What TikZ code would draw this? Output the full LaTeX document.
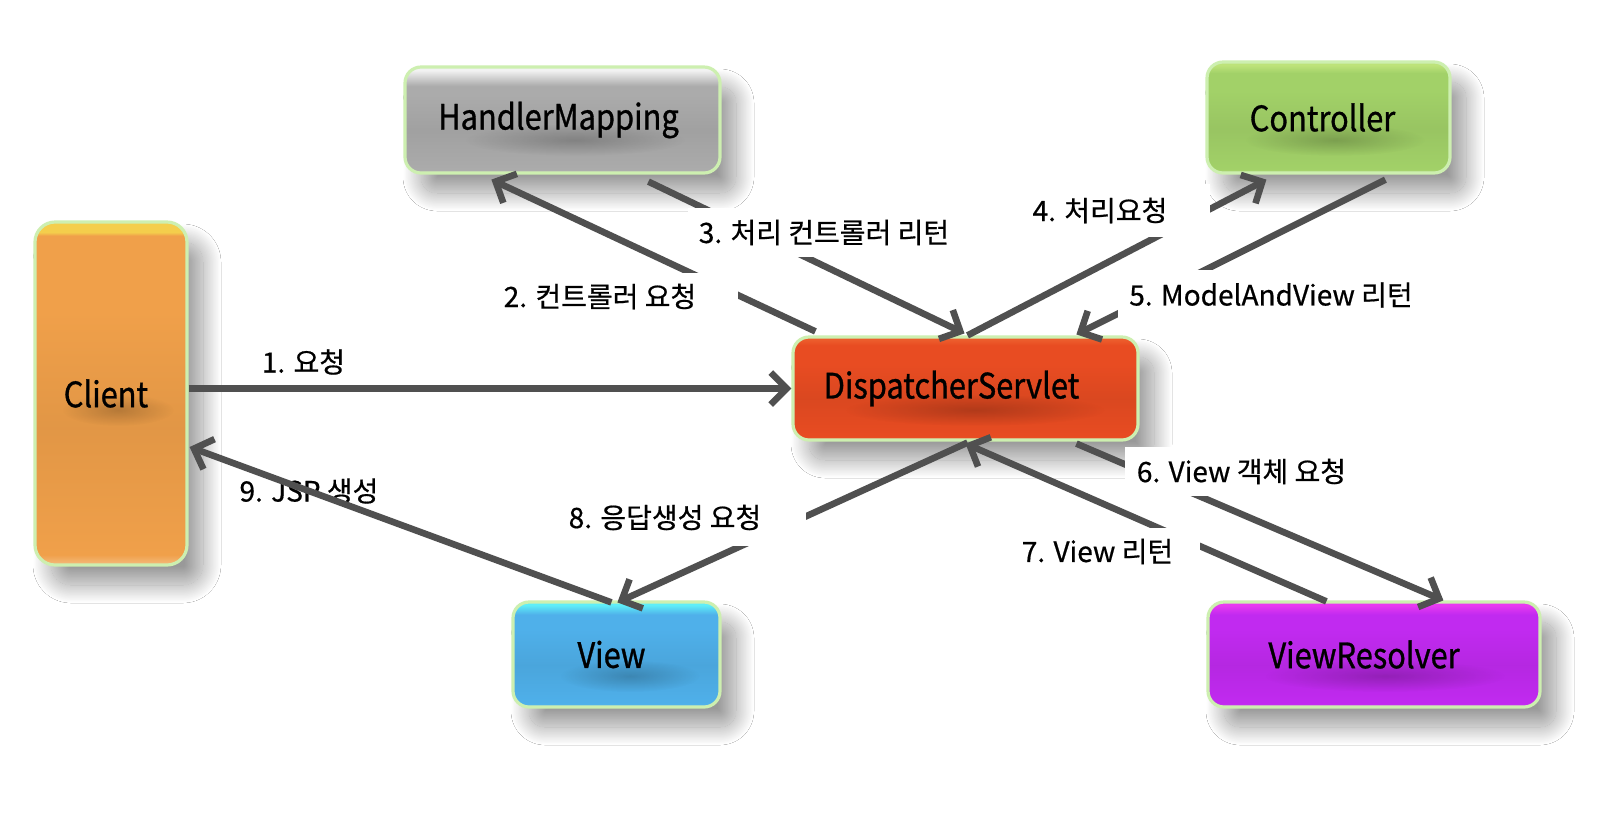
\documentclass[tikz,border=0pt]{standalone}
\usepackage{fontspec}
\setmainfont{Noto Sans CJK KR}[FakeBold=0.6]
\newfontfamily\boxfont{Noto Sans CJK KR}[FakeStretch=0.88,FakeBold=0.9]
\usetikzlibrary{arrows.meta,calc,shadows.blur,fadings}

% box colours
\definecolor{hmgray}{HTML}{ABABAB}
\definecolor{ctrlgreen}{HTML}{A2D168}
\definecolor{ctrltop}{HTML}{BDE37A}
\definecolor{clientorange}{HTML}{F0A04A}
\definecolor{clienttop}{HTML}{F4CE4C}
\definecolor{dsred}{HTML}{E84C22}
\definecolor{dstop}{HTML}{EC5C2C}
\definecolor{vrpurple}{HTML}{C12AF0}
\definecolor{vrtop}{HTML}{E83AF0}
\definecolor{viewblue}{HTML}{4FB0EA}
\definecolor{viewtop}{HTML}{5EEEF8}
\definecolor{glow}{HTML}{CDEFB0}
\definecolor{arrowgray}{HTML}{505050}

% glossy vertical shading: #1 name, #2 base, #3 top band colour, #4 start of top band (bp)
\newcommand\glossshade[4]{%
  \pgfdeclareverticalshading{#1}{100bp}{%
    color(0bp)=(#2!70!white); color(25bp)=(#2!70!white); color(26.5bp)=(#2);
    color(45bp)=(#2!94!black); color(62bp)=(#2); color(#4)=(#2); color(73.5bp)=(#3);
    color(75bp)=(#3); color(100bp)=(#3)}}
\glossshade{hmsh}{hmgray}{white!85!hmgray}{66bp}
\glossshade{ctrlsh}{ctrlgreen}{ctrltop}{70bp}
\glossshade{clientsh}{clientorange}{clienttop}{73bp}
\glossshade{dssh}{dsred}{dstop}{71bp}
\glossshade{vrsh}{vrpurple}{vrtop}{69bp}
\glossshade{viewsh}{viewblue}{viewtop}{69bp}

% radial fading for the soft patches
\tikzfading[name=softspot, inner color=transparent!0, outer color=transparent!100]
% soft dark patch under a box caption: centre, half width, half height
\newcommand\smudge[3]{\fill[black, opacity=0.2, path fading=softspot] #1 ellipse [x radius=#2, y radius=#3];}

\tikzset{
  box/.style={shade, rounded corners=8pt, draw=glow, line width=1.6pt, inner sep=0pt,
    text=black, font=\boxfont\fontsize{17.5}{20}\selectfont,
    blur shadow={shadow xshift=8pt, shadow yshift=-10pt, shadow blur radius=9pt,
      shadow blur steps=40, shadow opacity=40}},
  flow/.style={draw=arrowgray, line width=3.3pt, -{Straight Barb[length=8pt,width=16pt]}},
  lbl/.style={fill=white, inner sep=0pt, text=black, font=\fontsize{14}{17}\selectfont},
  plainlbl/.style={inner sep=0pt, text=black, font=\fontsize{14}{17}\selectfont},
}

\begin{document}
\begin{tikzpicture}[x=0.5pt,y=-0.5pt]
\useasboundingbox[fill=white] (0,0) rectangle (1610,816);

% components
\node[box, shading=hmsh, minimum width=157.5pt, minimum height=53pt] (hm) at (562.5,120) {HandlerMapping\hspace*{4pt}};
\node[box, shading=ctrlsh, minimum width=121.5pt, minimum height=55.5pt] (ctrl) at (1328.5,117.5) {Controller\hspace*{6pt}};
\node[box, shading=clientsh, rounded corners=10pt, minimum width=76pt, minimum height=171.5pt] (client) at (111,393.5) {Client\hspace*{5pt}};
\node[box, shading=dssh, minimum width=172.5pt, minimum height=51.5pt] (ds) at (965.5,388.5) {DispatcherServlet\hspace*{14pt}};
\node[box, shading=vrsh, minimum width=166pt, minimum height=52.5pt] (vr) at (1374,654.5) {ViewResolver\hspace*{10pt}};
\node[box, shading=viewsh, minimum width=103.5pt, minimum height=52.5pt] (view) at (616.5,654.5) {View\hspace*{5pt}};

% darker patches below the captions
\smudge{(575,140)}{55pt}{8pt}
\smudge{(1335,140)}{45pt}{8pt}
\smudge{(118,410)}{28pt}{8pt}
\smudge{(975,410)}{65pt}{8pt}
\smudge{(1385,676)}{60pt}{8pt}
\smudge{(630,676)}{35pt}{8pt}

% label that the return connector crosses
\node[plainlbl] (l9) at (309,491) {9. JSP 생성};

% request flow
\draw[flow] (client.east |- ds.west) -- (ds.west);
\draw[flow] ($(ds.north west)+(24,-4)$) -- ($(hm.south west)+(88,5)$);
\draw[flow] ($(hm.south west)+(245,7)$) -- ($(ds.north)+(-1,-2)$);
\draw[flow] ($(ds.north)+(2,0)$) -- ($(ctrl.south west)+(61,5)$);
\draw[flow] ($(ctrl.south west)+(180,5)$) -- ($(ds.north west)+(285,-1)$);
\draw[flow] ($(ds.south west)+(285,2)$) -- ($(vr.north west)+(237,0)$);
\draw[flow] ($(vr.north west)+(120,1)$) -- ($(ds.south)+(0,2)$);
\draw[flow] ($(ds.south)+(2,1)$) -- ($(view.north west)+(106,2)$);
\draw[flow] ($(view.north west)+(100,2)$) -- ($(client.east)+(1,53.5)$);

% step labels
\node[plainlbl] (l1) at (303.5,362) {1. 요청};
\node[lbl, minimum width=138pt, minimum height=23.5pt] (l2) at (600,296.5) {2. 컨트롤러 요청};
\node[lbl, minimum width=136pt, minimum height=24.5pt] (l3) at (824,232.5) {3. 처리 컨트롤러 리턴};
\node[lbl, minimum width=110pt, minimum height=26.5pt] (l4) at (1100,210.5) {4. 처리요청};
\node[lbl, minimum width=153pt, minimum height=25pt] (l5) at (1271,295) {5. ModelAndView 리턴};
\node[lbl, minimum width=116.5pt, minimum height=24.5pt] (l6) at (1241.5,471.5) {6. View 객체 요청};
\node[lbl, minimum width=102.5pt, minimum height=23.5pt] (l7) at (1097.5,551.5) {7. View 리턴};
\node[lbl, minimum width=141pt, minimum height=28.5pt] (l8) at (665,517.5) {8. 응답생성 요청};
\end{tikzpicture}
\end{document}
